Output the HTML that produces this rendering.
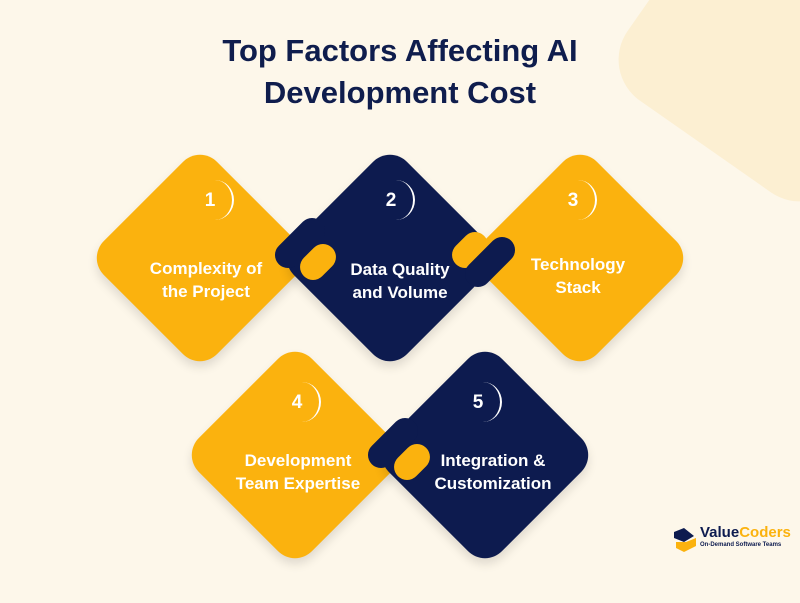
<!DOCTYPE html>
<html><head><meta charset="utf-8"><style>
body{margin:0;width:800px;height:603px;overflow:hidden;background:#fdf7ea;font-family:"Liberation Sans",sans-serif;position:relative}
.blob{position:absolute;left:650px;top:-90px;width:260px;height:260px;border-radius:50px;background:#fcefd2;transform:rotate(35deg)}
h1{position:absolute;top:30px;left:0;width:800px;margin:0;text-align:center;font-size:31px;line-height:42px;color:#0f1d4d;font-weight:bold}
.d{position:absolute;width:160px;height:160px;border-radius:24px;transform:rotate(45deg);box-shadow:4px 4px 10px rgba(0,0,0,.12)}
.y{background:#fbb20e}.n{background:#0d1b4f}
.pill{position:absolute;height:26px;border-radius:13px;transform:rotate(-45deg)}
.num{position:absolute;width:40px;height:40px;color:#fff;font-weight:bold;font-size:19px;line-height:40px;text-align:center}
.num .arc{position:absolute;left:6px;top:-1px;width:38px;height:40px;border-radius:50%;border-right:2px solid #fff;box-sizing:border-box}
.t{position:absolute;width:200px;text-align:center;color:#fff;font-size:17px;line-height:23px;font-weight:bold}
.logo{position:absolute;left:672px;top:528px}
</style></head><body>
<div class="blob"></div>
<h1>Top Factors Affecting AI<br>Development Cost</h1>

<div class="d y" style="left:120px;top:178px"></div>
<div class="d n" style="left:310px;top:178px"></div>
<div class="d y" style="left:500px;top:178px"></div>
<div class="pill n" style="left:270px;top:230px;width:60px"></div>
<div class="pill y" style="left:298px;top:249px;width:40px"></div>
<div class="pill y" style="left:450px;top:237px;width:40px"></div>
<div class="pill n" style="left:460px;top:249px;width:60px"></div>

<div class="d y" style="left:215px;top:375px"></div>
<div class="d n" style="left:405px;top:375px"></div>
<div class="pill n" style="left:363px;top:430px;width:60px"></div>
<div class="pill y" style="left:392px;top:449px;width:40px"></div>

<div class="num" style="left:190px;top:181px">1<span class="arc"></span></div>
<div class="num" style="left:371px;top:181px">2<span class="arc"></span></div>
<div class="num" style="left:553px;top:181px">3<span class="arc"></span></div>
<div class="num" style="left:277px;top:383px">4<span class="arc"></span></div>
<div class="num" style="left:458px;top:383px">5<span class="arc"></span></div>

<div class="t" style="left:106px;top:257px">Complexity of<br>the Project</div>
<div class="t" style="left:300px;top:258px">Data Quality<br>and Volume</div>
<div class="t" style="left:478px;top:253px">Technology<br>Stack</div>
<div class="t" style="left:198px;top:449px">Development<br>Team Expertise</div>
<div class="t" style="left:393px;top:449px">Integration &amp;<br>Customization</div>

<div class="logo">
<svg width="26" height="24" style="position:absolute;left:0;top:0"><polygon points="2,4 12,0 22,8 12,14 2,10" fill="#0d1b4f"/><polygon points="4,14 14,14 24,10 24,18 12,24 4,20" fill="#fbb20e"/></svg>
<div style="position:absolute;left:28px;top:-4px;font-weight:bold;font-size:15px;white-space:nowrap"><span style="color:#0d1b4f">Value</span><span style="color:#fbb20e">Coders</span></div>
<div style="position:absolute;left:28px;top:14px;font-size:6px;color:#0d1b4f;white-space:nowrap;font-weight:bold">On-Demand Software Teams</div>
</div>
</body></html>
